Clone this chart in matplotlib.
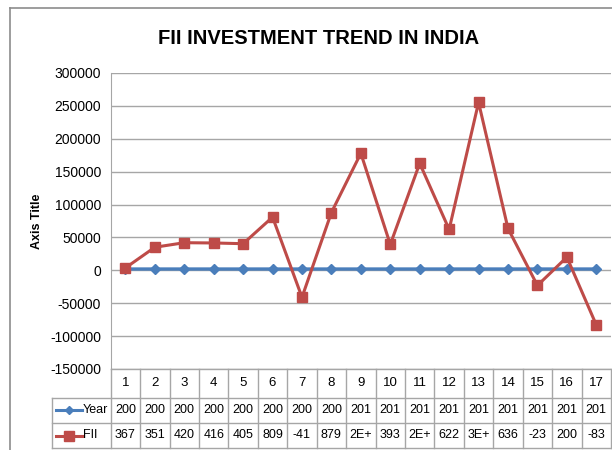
import matplotlib
matplotlib.use("Agg")
import matplotlib.pyplot as plt
from matplotlib.lines import Line2D

# ---- data ----
periods = list(range(1, 18))
year = [2002, 2003, 2004, 2005, 2006, 2007, 2008, 2009,
        2010, 2011, 2012, 2013, 2014, 2015, 2016, 2017, 2018]
fii = [3670, 35100, 42000, 41600, 40500, 80900, -41000, 87900, 178000,
       39300, 162600, 62200, 255300, 63600, -23000, 20050, -83000]
year_labels = ["200"] * 8 + ["201"] * 9
fii_labels = ["367", "351", "420", "416", "405", "809", "-41", "879", "2E+",
              "393", "2E+", "622", "3E+", "636", "-23", "200", "-83"]
yticks = list(range(-150000, 300001, 50000))

plt.rcParams["font.family"] = ["Liberation Sans", "DejaVu Sans"]

BLUE = "#4A7EBB"
RED = "#BE4B48"
GRID = "#A6A6A6"
W, H = 612, 450

fig = plt.figure(figsize=(W / 100, H / 100), dpi=100)
fig.patch.set_facecolor("white")

# outer chart border (right/bottom cut off in the original)
fig.add_artist(Line2D([10 / W, 1], [1 - 8 / H, 1 - 8 / H], color="#8C8C8C", lw=1.2))
fig.add_artist(Line2D([10 / W, 10 / W], [0, 1 - 8 / H], color="#8C8C8C", lw=1.2))

# plot area
x0, x1 = 110.7, 611.0
ytop, ybot = 73, 369
ax = fig.add_axes([x0 / W, 1 - ybot / H, (x1 - x0) / W, (ybot - ytop) / H])
xs = list(range(len(periods)))
ax.set_xlim(-0.5, len(periods) - 0.5)
ax.set_ylim(yticks[0], yticks[-1])
ax.set_yticks(yticks)
ax.set_yticklabels([str(v) for v in yticks], fontsize=10)
ax.set_xticks([])
for v in yticks:
    ax.axhline(v, color=GRID, lw=1.0, zorder=1)
for s in ["top", "right", "bottom"]:
    ax.spines[s].set_visible(False)
ax.spines["left"].set_color(GRID)
ax.tick_params(axis="y", length=0, pad=7)

ax.plot(xs, year, color=BLUE, lw=2.4, marker="D", ms=5.5, zorder=3)
ax.plot(xs, fii, color=RED, lw=2.2, marker="s", ms=7, zorder=4)

fig.text(37 / W, 1 - 221 / H, "Axis Title", rotation=90, ha="center", va="center",
         fontsize=9, fontweight="bold")
fig.text(319 / W, 1 - 38.5 / H, "FII INVESTMENT TREND IN INDIA", ha="center", va="center",
         fontsize=14.5, fontweight="bold")

# data table under the plot (x in category units, y in pixels)
tl = 51.5
unit = (x1 - x0) / len(periods)
leg_w = (x0 - tl) / unit
rows = [369, 397.5, 423, 448]
at = fig.add_axes([tl / W, 1 - rows[-1] / H, (x1 - tl) / W, (rows[-1] - rows[0]) / H])
xl, xr = -0.5 - leg_w, len(periods) - 0.5
at.set_xlim(xl, xr)
at.set_ylim(rows[-1], rows[0])
at.axis("off")
lk = dict(color=GRID, lw=1.0, clip_on=False)
at.plot([-0.5, xr], [rows[0], rows[0]], **lk)
for r in rows[1:]:
    at.plot([xl, xr], [r, r], **lk)
at.plot([xl, xl], [rows[1], rows[3]], **lk)
for i in range(len(periods) + 1):
    at.plot([i - 0.5, i - 0.5], [rows[0], rows[3]], **lk)
mids = [(rows[k] + rows[k + 1]) / 2 for k in range(3)]
for i, p in enumerate(periods):
    at.text(i, mids[0], str(p), ha="center", va="center", fontsize=9.5)
    at.text(i, mids[1], year_labels[i], ha="center", va="center", fontsize=9)
    at.text(i, mids[2], fii_labels[i], ha="center", va="center", fontsize=9)

px = 1 / unit
for k, (name, col, mk, ms) in enumerate([("Year", BLUE, "D", 4.5), ("FII", RED, "s", 6.5)]):
    yy = mids[k + 1]
    at.plot([xl + 4 * px, xl + 30 * px], [yy, yy], color=col, lw=2.2)
    at.plot([xl + 17 * px], [yy], color=col, marker=mk, ms=ms)
    at.text(xl + 31.5 * px, yy, name, ha="left", va="center", fontsize=9)

fig.savefig("out.png", dpi=100, facecolor="white")
